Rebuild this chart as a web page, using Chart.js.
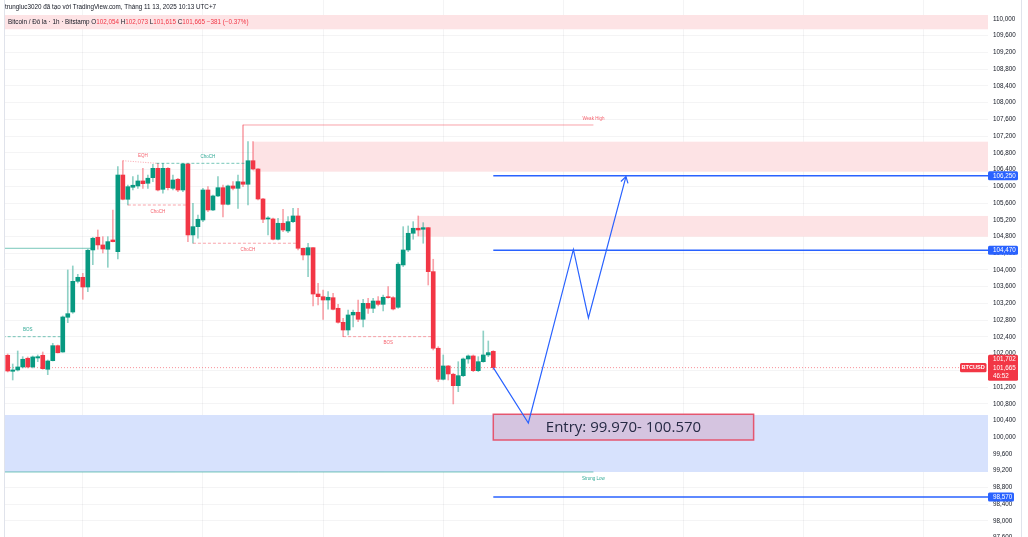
<!DOCTYPE html>
<html>
<head>
<meta charset="utf-8">
<script src="https://cdn.jsdelivr.net/npm/chart.js@4.4.1/dist/chart.umd.min.js"></script>
<style>
  html, body { margin: 0; padding: 0; background: #fff; }
  canvas { display: block; }
</style>
</head>
<body>
<canvas id="chart" width="1028" height="537"></canvas>
<script>
// BTCUSD 1h (Bitstamp) - giá đọc lại từ ảnh chụp TradingView
const candleOpen = [
  101960, 101578, 101609, 101681, 101889, 101681, 101896, 101960, 101626, 101831,
  102190, 102039, 102869, 102995, 103729, 103825, 103593, 104478, 104782, 104598,
  104495, 104717, 104437, 106270, 105690, 105977, 106008, 106128, 106073, 106206,
  106430, 105928, 106430, 105952, 106168, 105912, 106534, 104837, 105035, 105195,
  105912, 105434, 105769, 105967, 105570, 106008, 105952, 106104, 106049, 106612,
  106414, 105697, 105219, 105219, 104734, 105116, 104932, 105154, 105291, 104519,
  104358, 104533, 103425, 103361, 103282, 103337, 103084, 102749, 102565, 102924,
  102988, 102821, 103203, 103084, 103258, 103179, 103361, 103337, 103108, 104120,
  104478, 104877, 104997, 104973, 105011, 103960, 102128, 101387, 101705, 101507,
  101234, 101473, 101872, 101944, 101593, 101807, 101968, 102054
];
const candleHigh = [
  101991, 101752, 102063, 101927, 101920, 101944, 101968, 102039, 101848, 102247,
  102206, 102900, 104000, 104096, 103896, 103920, 104495, 104782, 104956, 104796,
  104796, 105434, 106469, 106610, 106032, 106230, 106270, 106430, 106270, 106526,
  106550, 106550, 106450, 106270, 106192, 106550, 106550, 105594, 105315, 105952,
  105991, 105793, 106230, 106032, 106032, 106111, 106270, 107466, 107067, 107067,
  106426, 105714, 105274, 105243, 105236, 105451, 105274, 105475, 105475, 104526,
  104639, 104538, 103680, 103521, 103481, 103443, 103179, 102845, 103043, 103043,
  103282, 103299, 103323, 103323, 103361, 103402, 103600, 103361, 104175, 105035,
  105052, 105154, 105291, 105131, 105016, 104256, 102166, 101968, 101717, 101531,
  101807, 101896, 101968, 101968, 101927, 102541, 102302, 102073
];
const candleLow = [
  101561, 101370, 101585, 101657, 101657, 101657, 101807, 101626, 101497, 101824,
  102015, 102032, 102740, 102964, 103688, 103299, 103481, 104127, 104495, 104406,
  104064, 104669, 104263, 105673, 105553, 105912, 105952, 105952, 105952, 106111,
  105888, 105833, 105912, 105912, 105872, 105872, 104677, 104639, 104758, 105154,
  105393, 105417, 105752, 105267, 105553, 105912, 105474, 105991, 105553, 106390,
  105673, 105131, 104837, 104717, 104717, 104915, 104891, 105131, 104478, 104239,
  103839, 103138, 103162, 102820, 103060, 103043, 102726, 102406, 102446, 102637,
  102763, 102637, 102964, 102978, 103138, 103019, 103323, 103043, 103084, 104080,
  104437, 104734, 104813, 104639, 103641, 102087, 101329, 101370, 101370, 100797,
  101091, 101449, 101769, 101569, 101569, 101793, 101927, 101615
];
const candleClose = [
  101585, 101609, 101681, 101865, 101681, 101920, 101927, 101640, 101824, 102190,
  102022, 102876, 102955, 103729, 103825, 103593, 104471, 104758, 104598, 104502,
  104677, 104677, 106270, 105690, 105991, 106025, 106128, 106063, 106193, 106430,
  105912, 106430, 105967, 106151, 105912, 106534, 104837, 105035, 105212, 105912,
  105434, 105769, 105967, 105570, 106008, 105952, 106111, 106049, 106612, 106414,
  105697, 105212, 105243, 104734, 105116, 104956, 105154, 105291, 104519, 104358,
  104533, 103425, 103361, 103282, 103347, 103060, 102749, 102565, 102924, 102988,
  102821, 103203, 103084, 103258, 103179, 103347, 103337, 103067, 104137, 104478,
  104877, 104997, 104956, 105011, 103960, 102128, 101387, 101705, 101514, 101234,
  101473, 101872, 101944, 101593, 101807, 101968, 102023, 101665
];

// Trục giá bên phải
const priceTicks = [
  97600, 98000, 98400, 98800, 99200, 99600, 100000, 100400, 100800, 101200, 101600,
  102000, 102400, 102800, 103200, 103600, 104000, 104400, 104800, 105200, 105600,
  106000, 106400, 106800, 107200, 107600, 108000, 108400, 108800, 109200, 109600, 110000
];
const dayGridIndex = [15, 39, 63, 87, 111, 135, 159, 183];

// Các mức giá kẻ ngang màu xanh
const levelPrices = [106250, 104470, 98570];
const levelFrom = 97;

// Vùng cung / cầu (chỉ số nến bắt đầu, giá trên, giá dưới)
const zoneFrom = [-2, 49, 82, -2];
const zoneHigh = [110096, 107067, 105291, 100533];
const zoneLow  = [109754, 106350, 104795, 99170];

// Cấu trúc thị trường (BOS / ChoCH / EQH ...)
const structText      = ['BOS', '', 'EQH', 'ChoCH', 'ChoCH', 'ChoCH', 'BOS', 'Weak High', 'Strong Low'];
const structFrom      = [-2, -2, 23, 29.7, 24, 37, 67, 47, -2];
const structTo        = [11, 17, 29.7, 48, 36, 58, 85, 117, 117];
const structPriceFrom = [102405, 104518, 106612, 106550, 105553, 104639, 102406, 107466, 99170];
const structPriceTo   = [102405, 104518, 106550, 106550, 105553, 104639, 102406, 107466, 99170];
const structBull      = [true, true, false, true, false, false, false, false, true];
const structLabelAt   = [4, 0, 27, 40, 30, 48, 76, 117, 117];
const structAbove     = [true, true, true, true, false, false, false, true, false];

// Đường dự báo
const pathIndex = [97, 104, 113, 116, 123.5];
const pathPrice = [101665, 100342, 104490, 102852, 106230];

// Vùng Entry
const entryFrom = 97, entryTo = 149;
const entryHigh = 100550, entryLow = 99935;
const entryText = 'Entry: 99.970- 100.570';

const xMin = -0.54, xMax = 195.82;
const yMin = 97616, yMax = 110454;

const GREEN = '#089981', RED = '#f23645', BLUE = '#2962ff';
const lastIdx = candleClose.length - 1;
const lastClose = candleClose[lastIdx];
const isUp = candleClose.map((c, i) => c >= candleOpen[i]);
const fmt = v => v.toLocaleString('en-US');

function segment(x0, p0, x1, p1, color, width, dash, order) {
  return {
    type: 'line', data: [{ x: x0, y: p0 }, { x: x1, y: p1 }],
    borderColor: color, borderWidth: width, borderDash: dash || [],
    pointRadius: 0, tension: 0, fill: false, order: order || 0
  };
}

const lineSets = [];
// đường giá hiện tại (chấm đỏ)
lineSets.push(segment(xMin - 2, lastClose, xMax + 2, lastClose, 'rgba(242,54,69,0.55)', 1, [1, 2], 3));
structText.forEach((t, i) => {
  const color = structBull[i] ? 'rgba(8,153,129,0.55)' : 'rgba(242,54,69,0.45)';
  let dash = [];
  if (t === 'BOS' || t === 'ChoCH') dash = [3, 2];
  if (t === 'EQH') dash = [1, 1.5];
  lineSets.push(segment(structFrom[i], structPriceFrom[i], structTo[i], structPriceTo[i], color, 1, dash));
});
levelPrices.forEach(p => lineSets.push(segment(levelFrom, p, xMax + 2, p, BLUE, 1.5)));
lineSets.push({
  type: 'line', data: pathIndex.map((x, i) => ({ x: x, y: pathPrice[i] })),
  borderColor: BLUE, borderWidth: 1.2, pointRadius: 0, tension: 0, fill: false, order: 0
});

const overlay = {
  id: 'overlay',
  beforeDatasetsDraw(chart) {
    const { ctx, chartArea: a, scales: { x, y } } = chart;
    ctx.save();
    ctx.beginPath(); ctx.rect(a.left, a.top, a.right - a.left, a.bottom - a.top); ctx.clip();
    const zoneColors = ['#fde3e5', '#fde3e5', '#fde3e5', '#d7e2fd'];
    zoneFrom.forEach((f, i) => {
      const x0 = x.getPixelForValue(f), y0 = y.getPixelForValue(zoneHigh[i]), y1 = y.getPixelForValue(zoneLow[i]);
      ctx.fillStyle = zoneColors[i];
      ctx.fillRect(x0, y0, a.right - x0, y1 - y0);
    });
    // khung Entry
    const ex0 = x.getPixelForValue(entryFrom), ex1 = x.getPixelForValue(entryTo);
    const ey0 = y.getPixelForValue(entryHigh), ey1 = y.getPixelForValue(entryLow);
    ctx.fillStyle = '#d5c4e0';
    ctx.fillRect(ex0, ey0, ex1 - ex0, ey1 - ey0);
    ctx.strokeStyle = '#e5566f'; ctx.lineWidth = 1.5;
    ctx.strokeRect(ex0, ey0, ex1 - ex0, ey1 - ey0);
    ctx.fillStyle = '#262a44';
    ctx.font = '15px "Open Sans"';
    ctx.textAlign = 'center'; ctx.textBaseline = 'middle';
    ctx.fillText(entryText, (ex0 + ex1) / 2, (ey0 + ey1) / 2 + 0.5);
    ctx.restore();
  },
  afterDatasetsDraw(chart) {
    const { ctx, scales: { x, y } } = chart;
    ctx.save();
    ctx.font = '4.5px "Liberation Sans"';
    ctx.textAlign = 'center'; ctx.textBaseline = 'middle';
    structText.forEach((t, i) => {
      if (!t) return;
      const px = x.getPixelForValue(structLabelAt[i]);
      const f = (structLabelAt[i] - structFrom[i]) / ((structTo[i] - structFrom[i]) || 1);
      const p = structPriceFrom[i] + (structPriceTo[i] - structPriceFrom[i]) * Math.min(1, Math.max(0, f));
      const py = y.getPixelForValue(p) + (structAbove[i] ? -6.5 : 6.5);
      ctx.fillStyle = structBull[i] ? 'rgba(8,153,129,0.85)' : 'rgba(242,54,69,0.8)';
      ctx.fillText(t, px, py);
    });
    // mũi tên cuối đường dự báo
    const n = pathIndex.length;
    const x1 = x.getPixelForValue(pathIndex[n - 1]), y1 = y.getPixelForValue(pathPrice[n - 1]);
    const x0 = x.getPixelForValue(pathIndex[n - 2]), y0 = y.getPixelForValue(pathPrice[n - 2]);
    const ang = Math.atan2(y1 - y0, x1 - x0);
    ctx.strokeStyle = BLUE; ctx.lineWidth = 1.2;
    ctx.beginPath();
    ctx.moveTo(x1 + 7 * Math.cos(ang + Math.PI - 0.55), y1 + 7 * Math.sin(ang + Math.PI - 0.55));
    ctx.lineTo(x1, y1);
    ctx.lineTo(x1 + 7 * Math.cos(ang + Math.PI + 0.55), y1 + 7 * Math.sin(ang + Math.PI + 0.55));
    ctx.stroke();
    ctx.restore();
  },
  afterDraw(chart) {
    const { ctx, chartArea: a, scales: { y } } = chart;
    ctx.save();
    // viền phải trục giá
    ctx.strokeStyle = '#e0e3eb'; ctx.lineWidth = 1;
    ctx.beginPath(); ctx.moveTo(1021.5, 0); ctx.lineTo(1021.5, 537); ctx.stroke();
    ctx.beginPath(); ctx.moveTo(a.left - 0.5, 0); ctx.lineTo(a.left - 0.5, 537); ctx.stroke();

    // tiêu đề
    ctx.textBaseline = 'middle'; ctx.textAlign = 'left';
    ctx.font = '6.3px "Liberation Sans"';
    ctx.fillStyle = '#131722';
    ctx.fillText('trungluc3020 đã tạo với TradingView.com, Tháng 11 13, 2025 10:13 UTC+7', 5, 7);
    const parts = [
      ['Bitcoin / Đô la · 1h · Bitstamp', '#131722'],
      [' O', '#131722'], [fmt(candleOpen[lastIdx]), RED],
      [' H', '#131722'], [fmt(candleHigh[lastIdx]), RED],
      [' L', '#131722'], [fmt(candleLow[lastIdx]), RED],
      [' C', '#131722'], [fmt(candleClose[lastIdx]), RED],
      [' \u2212381 (\u22120.37%)', RED]
    ];
    let tx = 8;
    parts.forEach(([t, c]) => { ctx.fillStyle = c; ctx.fillText(t, tx, 22); tx += ctx.measureText(t).width; });

    // nhãn giá trên trục
    const box = (x0, w, yc, h, fill) => {
      ctx.fillStyle = fill;
      ctx.beginPath(); ctx.roundRect(x0, yc - h / 2, w, h, 1.5); ctx.fill();
    };
    levelPrices.forEach(p => {
      const yc = y.getPixelForValue(p);
      box(988, p >= 100000 ? 30 : 26, yc, 9, BLUE);
      ctx.fillStyle = '#fff';
      ctx.fillText(fmt(p), 993, yc + 0.3);
    });
    const yc = y.getPixelForValue(lastClose);
    box(988, 30, yc, 26, RED);
    ctx.fillStyle = '#fff';
    ctx.fillText('101,702', 993, yc - 8.7);
    ctx.fillText(fmt(lastClose), 993, yc + 0.3);
    ctx.fillText('46:52', 993, yc + 9);
    box(960, 26.5, yc, 9.4, RED);
    ctx.fillStyle = '#fff';
    ctx.font = 'bold 5.6px "Liberation Sans"';
    ctx.textAlign = 'center';
    ctx.fillText('BTCUSD', 973.2, yc + 0.3);
    ctx.restore();
  }
};

new Chart(document.getElementById('chart'), {
  type: 'bar',
  data: {
    datasets: [
      ...lineSets,
      {
        type: 'bar', label: 'body',
        data: candleOpen.map((o, i) => ({ x: i, y: [o, candleClose[i]] })),
        backgroundColor: isUp.map(u => u ? GREEN : RED),
        barThickness: 4, grouped: false, minBarLength: 1, order: 1
      },
      {
        type: 'bar', label: 'wick',
        data: candleLow.map((l, i) => ({ x: i, y: [l, candleHigh[i]] })),
        backgroundColor: isUp.map(u => u ? 'rgba(8,153,129,0.45)' : 'rgba(242,54,69,0.45)'),
        barThickness: 1, grouped: false, order: 2
      }
    ]
  },
  options: {
    responsive: false, animation: false, devicePixelRatio: 1,
    layout: { padding: { left: 5, right: 0, top: 0, bottom: 0 } },
    plugins: { legend: { display: false }, tooltip: { enabled: false } },
    scales: {
      x: {
        type: 'linear', min: xMin, max: xMax, offset: false,
        afterBuildTicks: s => { s.ticks = dayGridIndex.map(v => ({ value: v })); },
        afterFit: s => { s.height = 0; s.paddingLeft = 0; s.paddingRight = 0; },
        grid: { color: 'rgba(42,46,57,0.05)', drawTicks: false, offset: false },
        border: { display: false },
        ticks: { display: false }
      },
      y: {
        position: 'right', min: yMin, max: yMax,
        afterBuildTicks: s => { s.ticks = priceTicks.map(v => ({ value: v })); },
        afterFit: s => { s.width = 40; s.paddingTop = 0; s.paddingBottom = 0; },
        grid: { color: 'rgba(42,46,57,0.05)', drawTicks: false },
        border: { display: false },
        ticks: {
          autoSkip: false, padding: 5, color: '#131722',
          font: { family: 'Liberation Sans', size: 6.3 },
          callback: v => fmt(v)
        }
      }
    }
  },
  plugins: [overlay]
});
</script>
</body>
</html>
